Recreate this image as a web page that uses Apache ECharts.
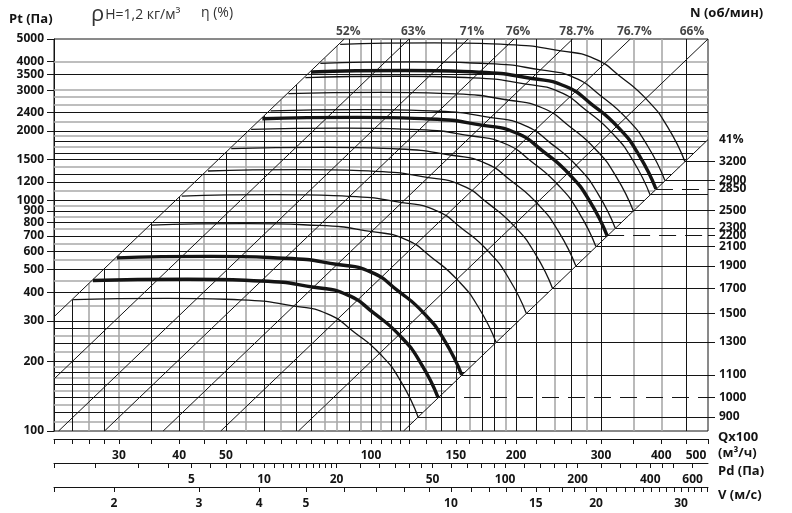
<!DOCTYPE html>
<html><head><meta charset="utf-8">
<script src="https://cdn.jsdelivr.net/npm/echarts@6/dist/echarts.min.js"></script>
<style>html,body{margin:0;padding:0;background:#fff}#c{width:792px;height:513px}</style>
</head><body><div id="c"></div>
<script>
// ---------- axis ranges ----------
const Q_MIN = 22, Q_MAX = 500;        // Qx100 m3/h
const PT_MIN = 100, PT_MAX = 5000;    // Pt, Pa
const PD_MIN = 1.345, PD_MAX = 694.7; // Pd, Pa
const V_MIN = 1.502, V_MAX = 34.13;   // V, m/s

// ---------- tick labels ----------
const ptLabels = [100,200,300,400,500,600,700,800,900,1000,1200,1500,2000,2400,3000,3500,4000,5000];
const qTicks = [22,24,26,28,30,35,40,45,50,55,60,65,70,75,80,85,90,95,100,105,110,115,120,130,140,150,160,170,180,190,200,220,240,260,280,300,350,400,450,500];
const qLabels = [30,40,50,100,150,200,300,400,500];
const pdTicks = [1.345,2,3,4,5,6,7,8,9,10,11,12,13,14,15,16,17,18,19,20,25,30,35,40,45,50,60,70,80,90,100,120,140,160,180,200,250,300,350,400,450,500,600];
const pdLabels = [5,10,20,50,100,200,400,600];
const vTicks = [1.502,2,3,4,5,6,7,8,9,10,11,12,13,14,15,16,17,18,19,20,21,22,23,24,25,26,27,28,29,30,31,32,33,34];
const vLabels = [2,3,4,5,10,15,20,30];

// ---------- grid lines ----------
const gridPtBlack = [120,140,160,180,200,240,280,300,400,500,600,700,800,900,1000,1200,1300,1500,1600,1800,2000,2400,3500];
const gridPtGray  = [110,130,150,170,190,220,260,350,450,550,650,750,850,950,1100,1400,1700,1900,2200,2600,2800,3000,4000];
const gridQBlack = [24,28,35,40,50,60,70,75,90,100,110,115,120,140,150,170,180,200,220,260,300,450];
const gridQGray  = [26,30,45,55,65,80,85,95,105,130,160,190,240,280,350,400];

// ---------- efficiency lines (Q at Pt = 5000) ----------
const effNames = ['52%','63%','71%','76%','78.7%','76.7%','66%','41%'];
const effQTop  = [88,120,159,198,262,345,500,826];

// ---------- fan curves [Q, Pt] ----------
const c900  = [[24.1,371],[37.8,376],[53.7,370],[69.3,348],[81.2,322],[92.3,268],[104.8,214],[115.3,164],[125.2,115]];
const c1000 = [[26.5,449],[41.6,455],[59.0,447],[76.2,420],[89.3,389],[101.4,324],[115.2,257],[126.8,197],[137.7,140]];
const c1100 = [[29.7,563],[46.6,571],[66.1,561],[85.3,527],[100.0,488],[113.6,406],[129.1,322],[142.0,247],[154.2,175]];
const c1300 = [[35.0,781],[54.8,792],[77.9,778],[100.5,731],[117.8,677],[133.8,564],[152.0,446],[167.3,342],[181.6,243]];
const c1500 = [[40.5,1043],[63.4,1057],[90.0,1040],[116.1,977],[136.1,904],[154.6,753],[175.7,596],[193.3,457],[209.9,324]];
const c1700 = [[45.9,1339],[71.8,1358],[102.0,1335],[131.6,1254],[154.2,1161],[175.2,967],[199.1,765],[219.0,587],[237.9,416]];
const c1900 = [[51.3,1673],[80.3,1696],[114.0,1668],[147.1,1567],[172.4,1450],[195.9,1208],[222.5,956],[244.8,733],[265.9,520]];
const c2100 = [[56.4,2028],[88.4,2056],[125.5,2022],[161.9,1899],[189.8,1758],[215.7,1464],[245.0,1159],[269.6,889],[292.7,631]];
const c2200 = [[59.5,2256],[93.2,2288],[132.4,2250],[170.8,2113],[200.2,1956],[227.5,1629],[258.4,1290],[284.4,989],[308.8,702]];
const c2300 = [[61.9,2438],[96.9,2472],[137.6,2431],[177.5,2283],[208.1,2113],[236.4,1760],[268.6,1394],[295.5,1069],[321.0,758]];
const c2500 = [[67.4,2897],[105.7,2938],[150.0,2889],[193.5,2713],[226.9,2512],[257.8,2092],[292.8,1656],[322.2,1270],[349.9,901]];
const c2800 = [[73.1,3401],[114.5,3448],[162.5,3391],[209.7,3185],[245.8,2948],[279.3,2455],[317.2,1944],[349.1,1491],[379.1,1057]];
const c2850 = [[75.2,3599],[117.8,3650],[167.2,3589],[215.7,3371],[252.9,3120],[287.3,2599],[326.4,2058],[359.1,1578],[390.0,1119]];
const c2900 = [[78.5,3921],[122.9,3976],[174.5,3909],[225.2,3672],[263.9,3399],[299.9,2831],[340.6,2241],[374.8,1719],[407.0,1219]];
const c3200 = [[86.3,4742],[135.2,4809],[191.9,4728],[247.6,4441],[290.3,4111],[329.8,3424],[374.6,2711],[412.2,2079],[447.7,1474]];

const curves = [c900,c1000,c1100,c1300,c1500,c1700,c1900,c2100,c2200,c2300,c2500,c2800,c2850,c2900,c3200];
const rpmNames = ['900','1000','1100','1300','1500','1700','1900','2100','2200','2300','2500','','2850','2900','3200'];
const rpmBold   = [0,1,1,0,0,0,0,0,1,0,0,0,1,0,0];
const rpmDashed = [0,1,0,0,0,0,0,0,1,0,0,0,1,0,0];

// ---------- build ----------
const INK = '#141414';
const FONT = 'Open Sans';
const k52 = 5000 / (effQTop[0] * effQTop[0]);
const k41 = 5000 / (effQTop[7] * effQTop[7]);

function hSeg(p) { return { coords: [[Q_MIN, p], [Math.min(Q_MAX, Math.sqrt(p / k41)), p]] }; }
function vSeg(q) { return { coords: [[q, PT_MIN], [q, Math.min(PT_MAX, k52 * q * q)]] }; }
function effSeg(qt) {
  const k = 5000 / (qt * qt);
  let a = [Math.sqrt(PT_MIN / k), PT_MIN];
  if (a[0] < Q_MIN) a = [Q_MIN, k * Q_MIN * Q_MIN];
  let b = [qt, PT_MAX];
  if (qt > Q_MAX) b = [Q_MAX, k * Q_MAX * Q_MAX];
  return { coords: [a, b] };
}
function linesSeries(data, color, width, type, z) {
  return { type: 'lines', coordinateSystem: 'cartesian2d', xAxisIndex: 0, yAxisIndex: 0, silent: true, z: z,
           polyline: false, data: data,
           lineStyle: { color: color, width: width, opacity: 1, type: type || 'solid', curveness: 0 } };
}

const series = [];
series.push(linesSeries(gridPtGray.map(hSeg), '#a9a9a9', 1.6, 'solid', 1));
series.push(linesSeries(gridQGray.map(vSeg), '#a9a9a9', 1.6, 'solid', 1));
series.push(linesSeries(gridPtBlack.map(hSeg), INK, 1, 'solid', 2));
series.push(linesSeries(gridQBlack.map(vSeg), INK, 1, 'solid', 2));
series.push(linesSeries(effQTop.map(effSeg), INK, 1, 'solid', 3));

const ends = curves.map(c => c[c.length - 1]);
const solidEnds = [], dashedEnds = [];
ends.forEach((e, i) => {
  const d = { coords: [[e[0], e[1]], [Q_MAX, e[1]]] };
  (rpmDashed[i] ? dashedEnds : solidEnds).push(d);
});
series.push(linesSeries(solidEnds, INK, 1, 'solid', 3));
series.push(linesSeries(dashedEnds, INK, 1, [17, 9], 3));

curves.forEach((c, i) => {
  series.push({ type: 'line', xAxisIndex: 0, yAxisIndex: 0, data: c, showSymbol: false, symbol: 'none',
    smooth: 0.55, silent: true, z: 6, clip: true,
    lineStyle: { color: INK, width: rpmBold[i] ? 3.4 : 1.3 } });
});

// efficiency labels along the top edge
const effLabelData = effNames.slice(0, 7).map((n, i) => ({
  name: n, value: [Math.min(effQTop[i], Q_MAX), PT_MAX],
  label: { position: 'top', distance: 1, offset: i === 6 ? [-16, 0] : [4, 0] } }));
series.push({ type: 'scatter', xAxisIndex: 0, yAxisIndex: 0, symbolSize: 0.1, clip: false, silent: true, z: 10,
  itemStyle: { color: 'rgba(0,0,0,0)' },
  label: { show: true, formatter: '{b}', color: INK, fontWeight: 'bold', fontSize: 12, fontFamily: FONT },
  data: effLabelData });

// right axis (rpm labels + 41%)
const labeledIdx = rpmNames.map((n, i) => n ? i : -1).filter(i => i >= 0);
const rpmTickVals = labeledIdx.map(i => ends[i][1]);
const rpmLabelVals = rpmTickVals.concat([k41 * Q_MAX * Q_MAX]);
const rpmLabelTxt = labeledIdx.map(i => rpmNames[i]).concat([effNames[7]]);
function rpmFormatter(v) {
  let best = 0, bd = Infinity;
  rpmLabelVals.forEach((u, j) => { const d = Math.abs(Math.log(u) - Math.log(v)); if (d < bd) { bd = d; best = j; } });
  return rpmLabelTxt[best];
}

const boldLbl = { color: INK, fontWeight: 'bold', fontSize: 12, fontFamily: FONT };
function bottomAxis(min, max, ticks, labels, offset, lastShift) {
  return { type: 'log', gridIndex: 0, position: 'bottom', offset: offset, min: min, max: max,
    axisLine: { show: true, lineStyle: { color: INK, width: 1 } },
    axisTick: { show: true, customValues: ticks, length: 5, lineStyle: { color: INK, width: 1 } },
    axisLabel: Object.assign({ show: true, customValues: labels, margin: 11, hideOverlap: false,
      formatter: v => {
        const s = String(Math.round(v));
        return (lastShift && Math.abs(v - labels[labels.length - 1]) < 1e-6) ? '{r|' + s + '}' : s;
      },
      rich: { r: Object.assign({ padding: [0, lastShift || 0, 0, 0] }, boldLbl) } }, boldLbl),
    splitLine: { show: false }, minorTick: { show: false } };
}

const nameFont = 'bold 13px "Open Sans"';
const option = {
  animation: false,
  backgroundColor: '#fff',
  textStyle: { fontFamily: FONT },
  grid: { left: 54, top: 39, width: 654, height: 392, show: true, borderColor: INK, borderWidth: 1,
          backgroundColor: 'rgba(0,0,0,0)' },
  xAxis: [
    { type: 'log', gridIndex: 0, min: Q_MIN, max: Q_MAX, axisLine: { show: false }, axisTick: { show: false },
      axisLabel: { show: false }, splitLine: { show: false } },
    bottomAxis(Q_MIN, Q_MAX, qTicks, qLabels, 8, 24),
    bottomAxis(PD_MIN, PD_MAX, pdTicks, pdLabels, 32, 0),
    bottomAxis(V_MIN, V_MAX, vTicks, vLabels, 56, 0)
  ],
  yAxis: [
    { type: 'log', gridIndex: 0, position: 'left', min: PT_MIN, max: PT_MAX,
      axisLine: { show: true, lineStyle: { color: INK } },
      axisTick: { show: true, customValues: ptLabels, length: 7, lineStyle: { color: INK } },
      axisLabel: Object.assign({ customValues: ptLabels, margin: 10, hideOverlap: false,
        formatter: v => String(Math.round(v)) }, boldLbl),
      splitLine: { show: false } },
    { type: 'log', gridIndex: 0, position: 'right', min: PT_MIN, max: PT_MAX,
      axisLine: { show: false },
      axisTick: { show: true, customValues: rpmTickVals, length: 7, lineStyle: { color: INK } },
      axisLabel: Object.assign({ customValues: rpmLabelVals, margin: 11, hideOverlap: false,
        formatter: rpmFormatter }, boldLbl),
      splitLine: { show: false } }
  ],
  graphic: [
    { type: 'text', x: 9, y: 19, style: { text: 'Pt (Па)', fill: INK, font: nameFont, verticalAlign: 'middle' } },
    { type: 'text', x: 91, y: 15, style: { text: '{a|ρ}{b|Н=1,2 кг/м³}', verticalAlign: 'middle',
        rich: { a: { fontSize: 22, fontFamily: FONT, fill: '#333', padding: [0, 1, 0, 0] },
                b: { fontSize: 14, fontFamily: FONT, fill: '#333' } } } },
    { type: 'text', x: 201, y: 13, style: { text: 'η (%)', fill: '#333', font: '14px "Open Sans"', verticalAlign: 'middle' } },
    { type: 'text', x: 690, y: 13, style: { text: 'N (об/мин)', fill: INK, font: nameFont, verticalAlign: 'middle' } },
    { type: 'text', x: 718, y: 437, style: { text: 'Qx100', fill: INK, font: nameFont, verticalAlign: 'middle' } },
    { type: 'text', x: 718, y: 453, style: { text: '(м³/ч)', fill: INK, font: nameFont, verticalAlign: 'middle' } },
    { type: 'text', x: 718, y: 471, style: { text: 'Pd (Па)', fill: INK, font: nameFont, verticalAlign: 'middle' } },
    { type: 'text', x: 718, y: 495, style: { text: 'V (м/с)', fill: INK, font: nameFont, verticalAlign: 'middle' } }
  ],
  series: series
};

const chart = echarts.init(document.getElementById('c'), null, { renderer: 'canvas' });
chart.setOption(option);
</script>
</body></html>
